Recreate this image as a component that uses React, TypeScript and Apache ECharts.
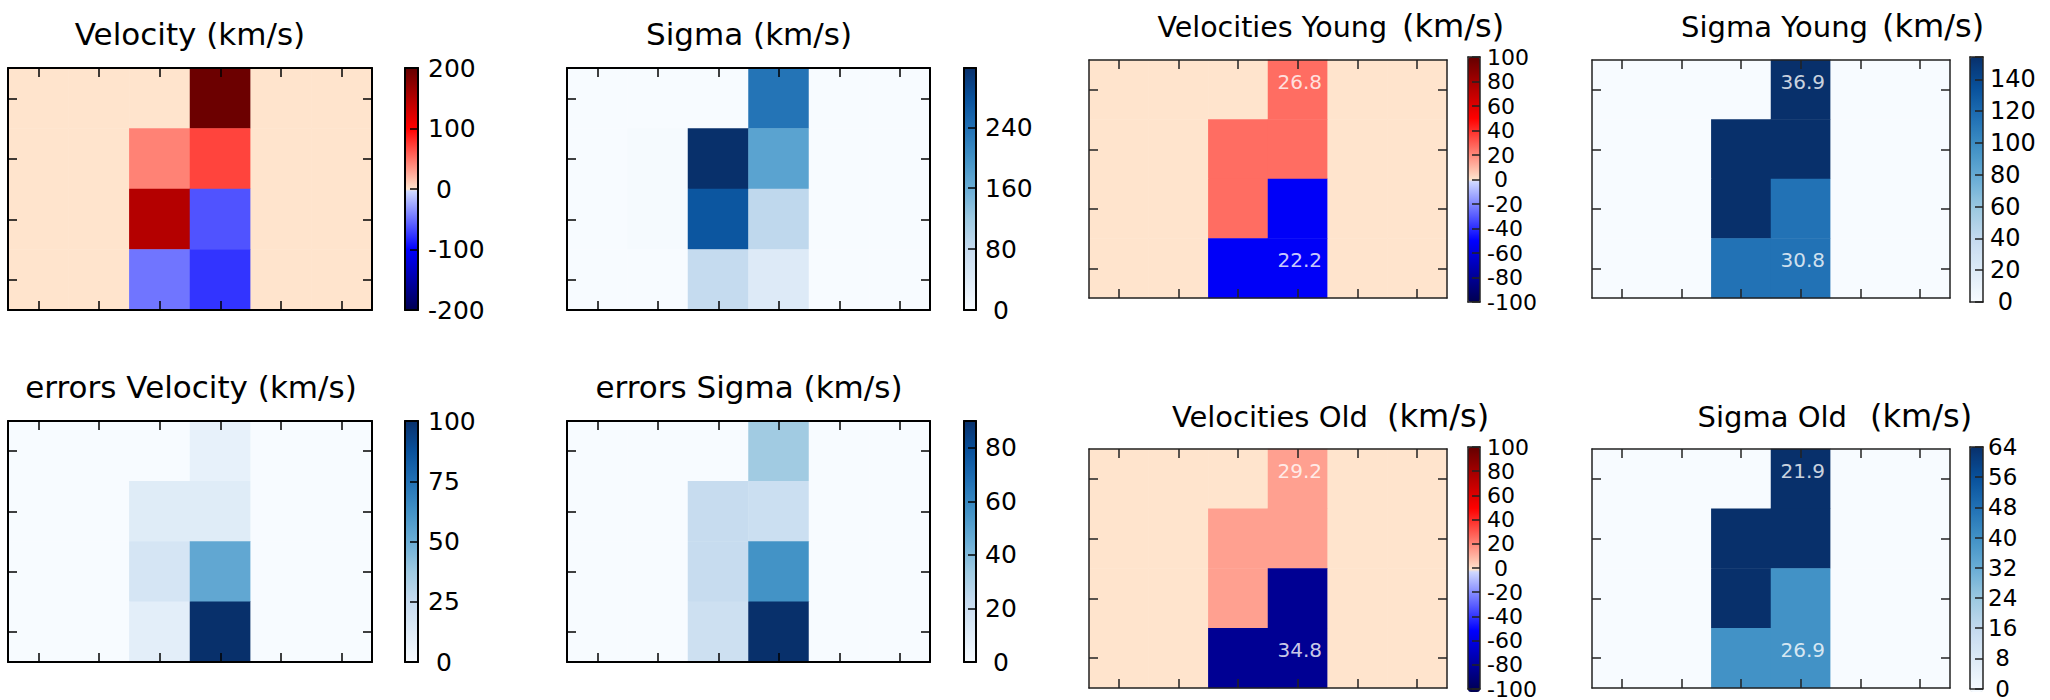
import React, { useEffect, useRef } from 'react';
import * as echarts from 'echarts';

// Spaxel grid: 6 columns x 4 rows
const columns = ['1', '2', '3', '4', '5', '6'];
const rows = ['1', '2', '3', '4'];

// Maps, rows listed from top to bottom (km/s)
const velocity = [
  [0, 0, 0, 195, 0, 0],
  [0, 0, 43, 70, 0, 0],
  [0, 0, 149, -63, 0, 0],
  [0, 0, -48, -77, 0, 0],
];
const sigma = [
  [0, 0, 0, 235, 0, 0],
  [0, 3, 318, 175, 0, 0],
  [0, 3, 272, 86, 0, 0],
  [0, 0, 80, 42, 0, 0],
];
const errorsVelocity = [
  [0, 0, 0, 8, 0, 0],
  [0, 0, 12, 12, 0, 0],
  [0, 0, 17, 53, 0, 0],
  [0, 0, 10, 100, 0, 0],
];
const errorsSigma = [
  [0, 0, 0, 33, 0, 0],
  [0, 0, 22, 20, 0, 0],
  [0, 0, 22, 56, 0, 0],
  [0, 0, 19, 90, 0, 0],
];
const velocitiesYoung = [
  [0, 0, 0, 26, 0, 0],
  [0, 0, 26, 26, 0, 0],
  [0, 0, 26, -52, 0, 0],
  [0, 0, -52, -52, 0, 0],
];
const sigmaYoung = [
  [0, 0, 0, 154, 0, 0],
  [0, 0, 154, 154, 0, 0],
  [0, 0, 154, 115, 0, 0],
  [0, 0, 115, 115, 0, 0],
];
const velocitiesOld = [
  [0, 0, 0, 15, 0, 0],
  [0, 0, 15, 15, 0, 0],
  [0, 0, 15, -81, 0, 0],
  [0, 0, -81, -81, 0, 0],
];
const sigmaOld = [
  [0, 0, 0, 64, 0, 0],
  [0, 0, 64, 64, 0, 0],
  [0, 0, 64, 40, 0, 0],
  [0, 0, 40, 40, 0, 0],
];

// Notes written inside the two populated regions: [column, row]
const noteCells = [
  [3, 0],
  [3, 3],
];
const velocitiesYoungNotes = ['26.8', '22.2'];
const sigmaYoungNotes = ['36.9', '30.8'];
const velocitiesOldNotes = ['29.2', '34.8'];
const sigmaOldNotes = ['21.9', '26.9'];

// Colour-scale ranges: [min, max, tick step]
const velocityScale = [-200, 200, 100];
const sigmaScale = [0, 318, 80];
const errorsVelocityScale = [0, 100, 25];
const errorsSigmaScale = [0, 90, 20];
const velocitiesYoungScale = [-100, 100, 20];
const sigmaYoungScale = [0, 154, 20];
const velocitiesOldScale = [-100, 100, 20];
const sigmaOldScale = [0, 64, 8];

const FONT = 'DejaVu Sans';

const BLUES = ['#f7fbff', '#deebf7', '#c6dbef', '#9ecae1', '#6baed6', '#4292c6', '#2171b5', '#08519c', '#08306b'];
const COOL = [[0, 0, 80], [0, 0, 255], [215, 225, 255]];
const WARM = [[255, 228, 205], [255, 0, 0], [100, 0, 0]];

const lerp3 = (a: number[], b: number[], u: number) => a.map((v, k) => Math.round(v + (b[k] - v) * u));
const along = (stops: number[][], u: number) => {
  const s = u * (stops.length - 1);
  const k = Math.min(Math.floor(s), stops.length - 2);
  return lerp3(stops[k], stops[k + 1], s - k);
};
// Diverging ramp with a split at the centre (blues below zero, reds above)
function diverging(n = 201): string[] {
  const out: string[] = [];
  for (let i = 0; i < n; i++) {
    const t = i / (n - 1);
    const rgb = t < 0.5 ? along(COOL, t / 0.5) : along(WARM, (t - 0.5) / 0.5);
    out.push(`rgb(${rgb.join(',')})`);
  }
  return out;
}
const DIVERGING = diverging();

type TitlePart = { text: string; x: number; y: number; size: number; align: string };
type Panel = {
  values: number[][];
  scale: number[];
  colors: string[];
  notes?: string[];
  grid: number[]; // left, top, width, height
  bar: number[]; // left, top, width, height
  titles: TitlePart[];
  labelSize: number;
  labelMargin: number;
  frame: string;
  frameWidth: number;
};

const panels: Panel[] = [
  {
    values: velocity, scale: velocityScale, colors: DIVERGING,
    grid: [8, 68, 364, 242], bar: [405, 68, 13, 242],
    titles: [{ text: 'Velocity (km/s)', x: 190, y: 34, size: 31, align: 'center' }],
    labelSize: 25, labelMargin: 10, frame: '#000', frameWidth: 2,
  },
  {
    values: sigma, scale: sigmaScale, colors: BLUES,
    grid: [567, 68, 363, 242], bar: [964, 68, 12, 242],
    titles: [{ text: 'Sigma (km/s)', x: 749, y: 34, size: 31, align: 'center' }],
    labelSize: 25, labelMargin: 9, frame: '#000', frameWidth: 2,
  },
  {
    values: velocitiesYoung, scale: velocitiesYoungScale, colors: DIVERGING, notes: velocitiesYoungNotes,
    grid: [1089, 60, 358, 238], bar: [1468, 57, 12, 245],
    titles: [
      { text: 'Velocities Young', x: 1387, y: 27, size: 28.5, align: 'right' },
      { text: '(km/s)', x: 1402, y: 26, size: 32, align: 'left' },
    ],
    labelSize: 22, labelMargin: 7, frame: '#222', frameWidth: 1.5,
  },
  {
    values: sigmaYoung, scale: sigmaYoungScale, colors: BLUES, notes: sigmaYoungNotes,
    grid: [1592, 60, 358, 238], bar: [1970, 57, 13, 245],
    titles: [
      { text: 'Sigma Young', x: 1868, y: 27, size: 29, align: 'right' },
      { text: '(km/s)', x: 1882, y: 26, size: 32, align: 'left' },
    ],
    labelSize: 24, labelMargin: 7, frame: '#222', frameWidth: 1.5,
  },
  {
    values: errorsVelocity, scale: errorsVelocityScale, colors: BLUES,
    grid: [8, 421, 364, 241], bar: [405, 421, 13, 241],
    titles: [{ text: 'errors Velocity (km/s)', x: 191, y: 387, size: 31, align: 'center' }],
    labelSize: 25, labelMargin: 10, frame: '#000', frameWidth: 2,
  },
  {
    values: errorsSigma, scale: errorsSigmaScale, colors: BLUES,
    grid: [567, 421, 363, 241], bar: [964, 421, 12, 241],
    titles: [{ text: 'errors Sigma (km/s)', x: 749, y: 387, size: 31, align: 'center' }],
    labelSize: 25, labelMargin: 9, frame: '#000', frameWidth: 2,
  },
  {
    values: velocitiesOld, scale: velocitiesOldScale, colors: DIVERGING, notes: velocitiesOldNotes,
    grid: [1089, 449, 358, 239], bar: [1468, 447, 12, 245],
    titles: [
      { text: 'Velocities Old', x: 1368, y: 417, size: 29, align: 'right' },
      { text: '(km/s)', x: 1387, y: 416, size: 32, align: 'left' },
    ],
    labelSize: 22, labelMargin: 7, frame: '#222', frameWidth: 1.5,
  },
  {
    values: sigmaOld, scale: sigmaOldScale, colors: BLUES, notes: sigmaOldNotes,
    grid: [1592, 449, 358, 239], bar: [1970, 447, 13, 245],
    titles: [
      { text: 'Sigma Old', x: 1847, y: 417, size: 29, align: 'right' },
      { text: '(km/s)', x: 1870, y: 416, size: 32, align: 'left' },
    ],
    labelSize: 23, labelMargin: 5, frame: '#222', frameWidth: 1.5,
  },
];

function buildOption() {
  const grid: any[] = [];
  const xAxis: any[] = [];
  const yAxis: any[] = [];
  const series: any[] = [];
  const visualMap: any[] = [];
  const texts: any[] = [];

  panels.forEach((p) => {
    const [min, max, step] = p.scale;
    const line = { show: true, onZero: false, lineStyle: { color: p.frame, width: p.frameWidth } };
    const off = { show: false };

    // map grid
    const g = grid.length;
    grid.push({ left: p.grid[0], top: p.grid[1], width: p.grid[2], height: p.grid[3] });
    const cellAxis = (position: string, data: string[], inverse: boolean) => ({
      type: 'category', gridIndex: g, position, data, inverse, z: 10,
      axisLine: line,
      axisTick: {
        show: true, inside: true, alignWithLabel: true, interval: 0, length: 9,
        lineStyle: { color: p.frame, width: 1.5 },
      },
      axisLabel: off, splitLine: off, splitArea: off,
    });
    const xi = xAxis.length;
    xAxis.push(cellAxis('bottom', columns, false), cellAxis('top', columns, false));
    const yi = yAxis.length;
    yAxis.push(cellAxis('left', rows, true), cellAxis('right', rows, true));

    const si = series.length;
    series.push({
      type: 'heatmap', xAxisIndex: xi, yAxisIndex: yi, z: 2,
      data: p.values.flatMap((row, r) => row.map((v, c) => [c, r, v])),
      emphasis: { disabled: true },
    });
    if (p.notes) {
      series.push({
        type: 'scatter', xAxisIndex: xi, yAxisIndex: yi, z: 5, symbolSize: 1,
        itemStyle: { color: 'transparent' },
        data: noteCells.map((cell, k) => ({ value: cell, label: { formatter: p.notes![k] } })),
        label: {
          show: true, position: 'inside', offset: [2, -8], color: '#fff',
          fontSize: 20, fontFamily: FONT,
        },
        emphasis: { disabled: true },
      });
    }

    // colour bar
    visualMap.push({
      type: 'continuous', seriesIndex: si, min, max, show: true, calculable: false,
      orient: 'vertical', left: p.bar[0], top: p.bar[1], itemWidth: p.bar[2], itemHeight: p.bar[3],
      padding: 0, borderWidth: 0, hoverLink: false, inRange: { color: p.colors },
    });

    const cb = grid.length;
    grid.push({ left: p.bar[0], top: p.bar[1], width: p.bar[2], height: p.bar[3] });
    const barX = (position: string) => ({
      type: 'value', gridIndex: cb, position, min: 0, max: 1, z: 10,
      axisLine: line, axisTick: off, axisLabel: off, splitLine: off,
    });
    xAxis.push(barX('bottom'), barX('top'));
    yAxis.push(
      {
        type: 'value', gridIndex: cb, position: 'left', min, max, z: 10,
        axisLine: line, axisTick: off, axisLabel: off, splitLine: off,
      },
      {
        type: 'value', gridIndex: cb, position: 'right', min, max, interval: step, z: 10,
        axisLine: line,
        axisTick: { show: true, inside: true, length: 8, lineStyle: { color: p.frame, width: 1.5 } },
        axisLabel: {
          show: true, margin: p.labelMargin, fontSize: p.labelSize, fontFamily: FONT, color: '#000',
          formatter: (v: number) => {
            const q = v / step;
            if (Math.abs(q - Math.round(q)) > 1e-6) return '';
            const s = String(Math.round(v));
            return v >= 0 && v < 10 ? '\u00a0' + s : s;
          },
        },
        splitLine: off,
      }
    );

    p.titles.forEach((t) => {
      texts.push({
        type: 'text', x: t.x, y: t.y, z: 20,
        style: {
          text: t.text, fontSize: t.size, fontFamily: FONT, fill: '#000',
          align: t.align, verticalAlign: 'middle',
        },
      });
    });
  });

  return {
    backgroundColor: '#fff',
    animation: false,
    grid, xAxis, yAxis, series, visualMap,
    graphic: { elements: texts },
  };
}

export default function App() {
  const ref = useRef<HTMLDivElement>(null);
  useEffect(() => {
    if (!ref.current) return;
    const chart = echarts.init(ref.current, undefined, { renderer: 'svg' });
    chart.setOption(buildOption() as any);
    return () => chart.dispose();
  }, []);
  return (
    <div
      ref={ref}
      style={{ position: 'absolute', left: 0, top: 0, width: 2050, height: 700 }}
    />
  );
}
